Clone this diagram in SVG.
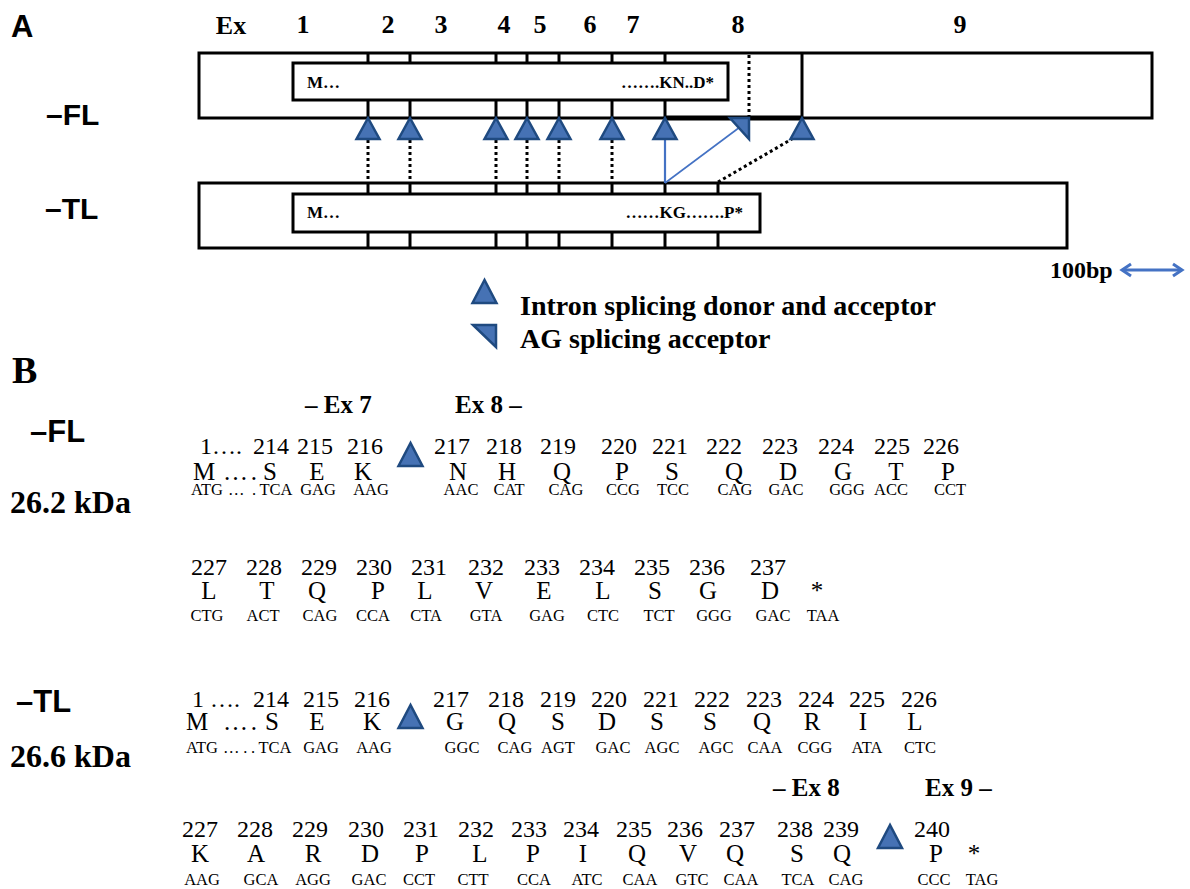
<svg xmlns="http://www.w3.org/2000/svg" width="1190" height="889" viewBox="0 0 1190 889">
<style>
.bg{fill:#fff}
.box{fill:#fff;stroke:#000;stroke-width:3}
.tk{stroke:#000;stroke-width:3}
.dot{stroke:#000;stroke-width:3;stroke-dasharray:3 3;fill:none}
.bl{stroke:#4472c4;fill:none}
.tri{fill:#4672b4;stroke:#1f4a80;stroke-width:2.5;stroke-linejoin:miter}
.sb{font-family:"Liberation Sans",Arial,sans-serif;font-weight:bold}
.tb{font-family:"Liberation Serif","Times New Roman",serif;font-weight:bold}
.ex{font-family:"Liberation Serif","Times New Roman",serif;font-weight:bold;font-size:26px;text-anchor:middle}
.in{font-family:"Liberation Serif","Times New Roman",serif;font-weight:bold;font-size:17px}
.n{font-family:"Liberation Serif","Times New Roman",serif;font-size:24px;text-anchor:middle}
.a{font-family:"Liberation Serif","Times New Roman",serif;font-size:25px;text-anchor:middle}
.c{font-family:"Liberation Serif","Times New Roman",serif;font-size:16.5px;text-anchor:middle}
.s{text-anchor:start}
</style>
<defs>
<polygon id="up" class="tri" points="0,0 -11.5,21 11.5,21"/>
<polygon id="ag" class="tri" points="-19,0 0,0 0,21"/>
<polygon id="upb" class="tri" points="0,0 -12,23 12,23"/>
</defs>
<rect class="bg" x="0" y="0" width="1190" height="889"/>

<!-- Panel A labels -->
<g id="labelA">
<text class="sb" x="11" y="37" font-size="31">A</text>
<text class="ex" x="231" y="34">Ex</text>
<text class="ex" x="303" y="33">1</text>
<text class="ex" x="388" y="33">2</text>
<text class="ex" x="441" y="33">3</text>
<text class="ex" x="504" y="33">4</text>
<text class="ex" x="540" y="33">5</text>
<text class="ex" x="590" y="33">6</text>
<text class="ex" x="633" y="33">7</text>
<text class="ex" x="738" y="33">8</text>
<text class="ex" x="960" y="33">9</text>
<text class="sb" x="46" y="125" font-size="30">–FL</text>
<text class="sb" x="45" y="219" font-size="30">–TL</text>
</g>

<!-- FL transcript -->
<g id="FL-transcript">
<rect class="box" x="199" y="53" width="953" height="65"/>
<line class="tk" x1="802" y1="53" x2="802" y2="118"/>
<line stroke="#000" stroke-width="5" x1="665" y1="118" x2="802" y2="118"/>
<rect class="box" x="293" y="63" width="435" height="37"/>
<g class="tk">
<line x1="368" y1="53" x2="368" y2="63"/><line x1="368" y1="100" x2="368" y2="118"/>
<line x1="410" y1="53" x2="410" y2="63"/><line x1="410" y1="100" x2="410" y2="118"/>
<line x1="496" y1="53" x2="496" y2="63"/><line x1="496" y1="100" x2="496" y2="118"/>
<line x1="527" y1="53" x2="527" y2="63"/><line x1="527" y1="100" x2="527" y2="118"/>
<line x1="559" y1="53" x2="559" y2="63"/><line x1="559" y1="100" x2="559" y2="118"/>
<line x1="612" y1="53" x2="612" y2="63"/><line x1="612" y1="100" x2="612" y2="118"/>
<line x1="665" y1="53" x2="665" y2="63"/><line x1="665" y1="100" x2="665" y2="118"/>
</g>
<line class="dot" x1="749" y1="55" x2="749" y2="116"/>
<text class="in" x="307" y="88">M…</text>
<text class="in" x="714" y="88" text-anchor="end">…….KN..D*</text>
</g>

<!-- TL transcript -->
<g id="TL-transcript">
<rect class="box" x="199" y="183" width="868" height="65"/>
<rect class="box" x="293" y="194" width="467" height="38"/>
<g class="tk">
<line x1="368" y1="183" x2="368" y2="194"/><line x1="368" y1="232" x2="368" y2="248"/>
<line x1="410" y1="183" x2="410" y2="194"/><line x1="410" y1="232" x2="410" y2="248"/>
<line x1="496" y1="183" x2="496" y2="194"/><line x1="496" y1="232" x2="496" y2="248"/>
<line x1="527" y1="183" x2="527" y2="194"/><line x1="527" y1="232" x2="527" y2="248"/>
<line x1="559" y1="183" x2="559" y2="194"/><line x1="559" y1="232" x2="559" y2="248"/>
<line x1="612" y1="183" x2="612" y2="194"/><line x1="612" y1="232" x2="612" y2="248"/>
<line x1="665" y1="183" x2="665" y2="194"/><line x1="665" y1="232" x2="665" y2="248"/>
<line x1="718" y1="183" x2="718" y2="194"/><line x1="718" y1="232" x2="718" y2="248"/>
</g>
<text class="in" x="307" y="218">M…</text>
<text class="in" x="743" y="218" text-anchor="end">……KG…….P*</text>
</g>

<!-- connectors -->
<g id="connectors">
<line class="dot" x1="368" y1="140" x2="368" y2="183"/>
<line class="dot" x1="410" y1="140" x2="410" y2="183"/>
<line class="dot" x1="496" y1="140" x2="496" y2="183"/>
<line class="dot" x1="527" y1="140" x2="527" y2="183"/>
<line class="dot" x1="559" y1="140" x2="559" y2="183"/>
<line class="dot" x1="612" y1="140" x2="612" y2="183"/>
<line class="bl" stroke-width="2.2" x1="665" y1="139" x2="665" y2="183"/>
<line class="bl" stroke-width="1.6" x1="665" y1="183" x2="740" y2="127"/>
<line class="dot" x1="718" y1="182" x2="792" y2="139"/>
</g>

<!-- splice sites -->
<g id="splice-sites">
<use href="#up" x="368" y="118"/>
<use href="#up" x="410" y="118"/>
<use href="#up" x="496" y="118"/>
<use href="#up" x="527" y="118"/>
<use href="#up" x="559" y="118"/>
<use href="#up" x="612" y="118"/>
<use href="#up" x="665" y="118"/>
<use href="#ag" x="749" y="118"/>
<use href="#up" x="802" y="118"/>
</g>

<!-- scale -->
<g id="scale">
<text class="tb" x="1050" y="278" font-size="24">100bp</text>
<line class="bl" stroke-width="3" x1="1122" y1="270" x2="1182" y2="270"/>
<polyline class="bl" stroke-width="3" points="1131,264 1122,270 1131,276"/>
<polyline class="bl" stroke-width="3" points="1173,264 1182,270 1173,276"/>
</g>

<!-- legend -->
<g id="legend">
<use href="#upb" x="484.5" y="280"/>
<text class="tb" x="520" y="315" font-size="28">Intron splicing donor and acceptor</text>
<polygon class="tri" points="473,325 496,325 496,347"/>
<text class="tb" x="520" y="348" font-size="28">AG splicing acceptor</text>
</g>

<!-- Panel B -->
<g id="labelB">
<text class="tb" x="12" y="383" font-size="38">B</text>
<text class="tb" x="305" y="413" font-size="25">– Ex 7</text>
<text class="tb" x="455" y="413" font-size="25">Ex 8 –</text>
<text class="sb" x="30" y="442" font-size="31">–FL</text>
<text class="tb" x="10" y="513" font-size="32">26.2 kDa</text>
<text class="sb" x="16" y="712" font-size="31">–TL</text>
<text class="tb" x="10" y="767" font-size="32">26.6 kDa</text>
<text class="tb" x="773" y="796" font-size="25">– Ex 8</text>
<text class="tb" x="925" y="796" font-size="25">Ex 9 –</text>
</g>

<g id="FL-seq-row1">
<text class="n s" x="200" y="454">1….</text>
<text class="n" x="271" y="454">214</text><text class="n" x="315" y="454">215</text><text class="n" x="365" y="454">216</text>
<text class="n" x="452" y="454">217</text><text class="n" x="504" y="454">218</text><text class="n" x="558" y="454">219</text>
<text class="n" x="619" y="454">220</text><text class="n" x="670" y="454">221</text><text class="n" x="724" y="454">222</text>
<text class="n" x="780" y="454">223</text><text class="n" x="836" y="454">224</text><text class="n" x="892" y="454">225</text><text class="n" x="941" y="454">226</text>
<text class="a" x="204" y="480">M</text><text class="a s" x="223" y="480" textLength="34" lengthAdjust="spacing">….</text>
<text class="a" x="270" y="480">S</text><text class="a" x="317" y="480">E</text><text class="a" x="363" y="480">K</text>
<text class="a" x="458" y="480">N</text><text class="a" x="507" y="480">H</text><text class="a" x="562" y="480">Q</text>
<text class="a" x="622" y="480">P</text><text class="a" x="672" y="480">S</text><text class="a" x="734" y="480">Q</text>
<text class="a" x="788" y="480">D</text><text class="a" x="843" y="480">G</text><text class="a" x="896" y="480">T</text><text class="a" x="948" y="480">P</text>
<text class="c" x="207" y="495">ATG</text><text class="c s" x="228" y="495" textLength="28" lengthAdjust="spacing">….</text><text class="c" x="276" y="495">TCA</text>
<text class="c" x="318" y="495">GAG</text><text class="c" x="371" y="495">AAG</text>
<text class="c" x="461" y="495">AAC</text><text class="c" x="509" y="495">CAT</text><text class="c" x="566" y="495">CAG</text>
<text class="c" x="623" y="495">CCG</text><text class="c" x="673" y="495">TCC</text><text class="c" x="735" y="495">CAG</text>
<text class="c" x="786" y="495">GAC</text><text class="c" x="847" y="495">GGG</text><text class="c" x="891" y="495">ACC</text><text class="c" x="950" y="495">CCT</text>
<use href="#upb" x="410.5" y="443"/>
</g>

<g id="FL-seq-row2">
<text class="n" x="209" y="575">227</text><text class="n" x="264" y="575">228</text><text class="n" x="319" y="575">229</text>
<text class="n" x="374" y="575">230</text><text class="n" x="429" y="575">231</text><text class="n" x="486" y="575">232</text>
<text class="n" x="542" y="575">233</text><text class="n" x="597" y="575">234</text><text class="n" x="652" y="575">235</text>
<text class="n" x="707" y="575">236</text><text class="n" x="768" y="575">237</text>
<text class="a" x="209" y="599">L</text><text class="a" x="267" y="599">T</text><text class="a" x="317" y="599">Q</text>
<text class="a" x="378" y="599">P</text><text class="a" x="425" y="599">L</text><text class="a" x="484" y="599">V</text>
<text class="a" x="544" y="599">E</text><text class="a" x="603" y="599">L</text><text class="a" x="655" y="599">S</text>
<text class="a" x="708" y="599">G</text><text class="a" x="770" y="599">D</text><text class="a" x="817" y="599">*</text>
<text class="c" x="207" y="621">CTG</text><text class="c" x="263" y="621">ACT</text><text class="c" x="320" y="621">CAG</text>
<text class="c" x="373" y="621">CCA</text><text class="c" x="426" y="621">CTA</text><text class="c" x="486" y="621">GTA</text>
<text class="c" x="547" y="621">GAG</text><text class="c" x="603" y="621">CTC</text><text class="c" x="659" y="621">TCT</text>
<text class="c" x="714" y="621">GGG</text><text class="c" x="773" y="621">GAC</text><text class="c" x="823" y="621">TAA</text>
</g>

<g id="TL-seq-row1">
<text class="n s" x="192" y="707">1 ….</text>
<text class="n" x="271" y="707">214</text><text class="n" x="321" y="707">215</text><text class="n" x="372" y="707">216</text>
<text class="n" x="451" y="707">217</text><text class="n" x="506" y="707">218</text><text class="n" x="558" y="707">219</text>
<text class="n" x="609" y="707">220</text><text class="n" x="661" y="707">221</text><text class="n" x="712" y="707">222</text>
<text class="n" x="764" y="707">223</text><text class="n" x="816" y="707">224</text><text class="n" x="867" y="707">225</text><text class="n" x="919" y="707">226</text>
<text class="a" x="197" y="730">M</text><text class="a s" x="223" y="730" textLength="34" lengthAdjust="spacing">….</text>
<text class="a" x="272" y="730">S</text><text class="a" x="317" y="730">E</text><text class="a" x="372" y="730">K</text>
<text class="a" x="455" y="730">G</text><text class="a" x="507" y="730">Q</text><text class="a" x="558" y="730">S</text>
<text class="a" x="607" y="730">D</text><text class="a" x="657" y="730">S</text><text class="a" x="710" y="730">S</text>
<text class="a" x="762" y="730">Q</text><text class="a" x="812" y="730">R</text><text class="a" x="863" y="730">I</text><text class="a" x="915" y="730">L</text>
<text class="c" x="202" y="753">ATG</text><text class="c s" x="223" y="753" textLength="32" lengthAdjust="spacing">…..</text><text class="c" x="275" y="753">TCA</text>
<text class="c" x="321" y="753">GAG</text><text class="c" x="374" y="753">AAG</text>
<text class="c" x="462" y="753">GGC</text><text class="c" x="515" y="753">CAG</text><text class="c" x="558" y="753">AGT</text>
<text class="c" x="613" y="753">GAC</text><text class="c" x="662" y="753">AGC</text><text class="c" x="716" y="753">AGC</text>
<text class="c" x="765" y="753">CAA</text><text class="c" x="815" y="753">CGG</text><text class="c" x="867" y="753">ATA</text><text class="c" x="920" y="753">CTC</text>
<use href="#upb" x="410.5" y="705"/>
</g>

<g id="TL-seq-row2">
<text class="n" x="200" y="837">227</text><text class="n" x="255" y="837">228</text><text class="n" x="310" y="837">229</text>
<text class="n" x="366" y="837">230</text><text class="n" x="421" y="837">231</text><text class="n" x="476" y="837">232</text>
<text class="n" x="529" y="837">233</text><text class="n" x="581" y="837">234</text><text class="n" x="634" y="837">235</text>
<text class="n" x="685" y="837">236</text><text class="n" x="737" y="837">237</text><text class="n" x="795" y="837">238</text>
<text class="n" x="841" y="837">239</text><text class="n" x="932" y="837">240</text>
<text class="a" x="200" y="862">K</text><text class="a" x="256" y="862">A</text><text class="a" x="313" y="862">R</text>
<text class="a" x="370" y="862">D</text><text class="a" x="422" y="862">P</text><text class="a" x="480" y="862">L</text>
<text class="a" x="533" y="862">P</text><text class="a" x="583" y="862">I</text><text class="a" x="637" y="862">Q</text>
<text class="a" x="688" y="862">V</text><text class="a" x="735" y="862">Q</text><text class="a" x="797" y="862">S</text>
<text class="a" x="842" y="862">Q</text><text class="a" x="936" y="862">P</text><text class="a" x="974" y="862">*</text>
<text class="c" x="202" y="885">AAG</text><text class="c" x="261" y="885">GCA</text><text class="c" x="313" y="885">AGG</text>
<text class="c" x="369" y="885">GAC</text><text class="c" x="419" y="885">CCT</text><text class="c" x="473" y="885">CTT</text>
<text class="c" x="534" y="885">CCA</text><text class="c" x="587" y="885">ATC</text><text class="c" x="640" y="885">CAA</text>
<text class="c" x="692" y="885">GTC</text><text class="c" x="741" y="885">CAA</text><text class="c" x="798" y="885">TCA</text>
<text class="c" x="846" y="885">CAG</text><text class="c" x="934" y="885">CCC</text><text class="c" x="982" y="885">TAG</text>
<use href="#upb" x="890" y="825"/>
</g>
</svg>
